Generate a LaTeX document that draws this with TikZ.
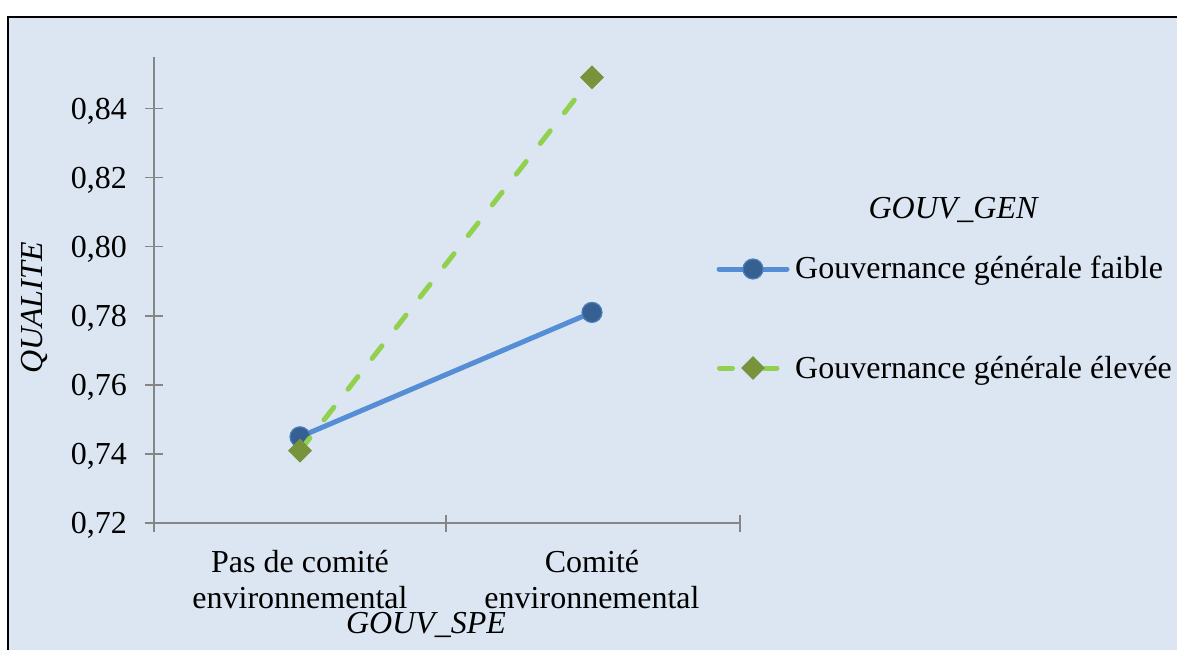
\documentclass[tikz,border=0pt]{standalone}
\usepackage{fontspec}
\setmainfont{Liberation Serif}
\usetikzlibrary{shapes.geometric}
\definecolor{bg}{HTML}{DCE6F2}
\definecolor{axisgray}{HTML}{868686}
\definecolor{blueline}{HTML}{558ED5}
\definecolor{bluefill}{HTML}{376092}
\definecolor{blueedge}{HTML}{4A7EBB}
\definecolor{greenline}{HTML}{92D050}
\definecolor{greenfill}{HTML}{77933C}
\begin{document}
\begin{tikzpicture}[x=1pt,y=-1pt,
  font=\fontsize{32}{36}\selectfont,
  axisline/.style={draw=axisgray,line width=1.6pt},
  bluestroke/.style={draw=blueline,line width=5pt,line cap=round},
  greenstroke/.style={draw=greenline,line width=5pt,line cap=round},
  greendash/.style={greenstroke,dash pattern=on 16pt off 23pt},
  bluemark/.style={circle,inner sep=0pt,minimum size=20pt,fill=bluefill,draw=blueedge,line width=1.2pt},
  greenmark/.style={diamond,inner sep=0pt,minimum size=24pt,fill=greenfill},
  ticklabel/.style={anchor=base east,inner sep=0pt},
  catlabel/.style={anchor=base,inner sep=0pt},
  legtext/.style={anchor=base west,inner sep=0pt}
]
\useasboundingbox (0,0) rectangle (1177,650);
% background and frame
\fill[bg] (8,17) rectangle (1185,660);
\draw[black,line width=2pt] (8,660) -- (8,17) -- (1185,17);

% axes
\coordinate (ytop) at (154,57);
\coordinate (origin) at (154,523);
\coordinate (xend) at (740,523);
\draw[axisline] (ytop) -- (origin) -- (xend);
\foreach \yy in {523,453.9,384.8,315.7,246.6,177.5,108.4}
  \draw[axisline] (145,\yy) -- (163,\yy);
\foreach \xx in {154,446,740}
  \draw[axisline] (\xx,515) -- (\xx,532);

% y tick labels
\node[ticklabel] (l72) at (127,533.8) {0,72};
\node[ticklabel] (l74) at (127,464.7) {0,74};
\node[ticklabel] (l76) at (127,395.6) {0,76};
\node[ticklabel] (l78) at (127,326.5) {0,78};
\node[ticklabel] (l80) at (127,257.4) {0,80};
\node[ticklabel] (l82) at (127,188.3) {0,82};
\node[ticklabel] (l84) at (127,119.2) {0,84};

% axis titles
\node[rotate=90,anchor=base,inner sep=0pt] (ytitle) at (42,308) {\itshape QUALITE};
\node[catlabel] (xtitle) at (426,633) {\itshape GOUV\_SPE};

% category labels
\node[catlabel] (c1a) at (300,572) {Pas de comité};
\node[catlabel] (c1b) at (300,608) {environnemental};
\node[catlabel] (c2a) at (592,572) {Comité};
\node[catlabel] (c2b) at (592,608) {environnemental};

% data points
\coordinate (pb1) at (300,436.8);
\coordinate (pb2) at (592,312.4);
\coordinate (pg1) at (300,450.6);
\coordinate (pg2) at (592,77.4);

% blue series
\draw[bluestroke] (pb1) -- (pb2);
\node[bluemark] (b1) at (pb1) {};
\node[bluemark] (b2) at (pb2) {};
% green series
\draw[greendash] (pg1) -- (pg2);
\node[greenmark] (g1) at (pg1) {};
\node[greenmark] (g2) at (pg2) {};

% legend
\node[catlabel] (legtitle) at (953,218) {\itshape GOUV\_GEN};
\coordinate (la1) at (719,269);
\coordinate (la2) at (787,269);
\draw[bluestroke] (la1) -- (la2);
\node[bluemark] (lbm) at (753,269) {};
\node[legtext] (lt1) at (795,278) {Gouvernance générale faible};
\coordinate (lg1) at (719.5,368);
\coordinate (lg2) at (732.5,368);
\coordinate (lg3) at (764.5,368);
\coordinate (lg4) at (777,368);
\draw[greenstroke] (lg1) -- (lg2);
\draw[greenstroke] (lg3) -- (lg4);
\node[greenmark] (lgm) at (753,368) {};
\node[legtext] (lt2) at (795,378) {Gouvernance générale élevée};
\end{tikzpicture}
\end{document}
